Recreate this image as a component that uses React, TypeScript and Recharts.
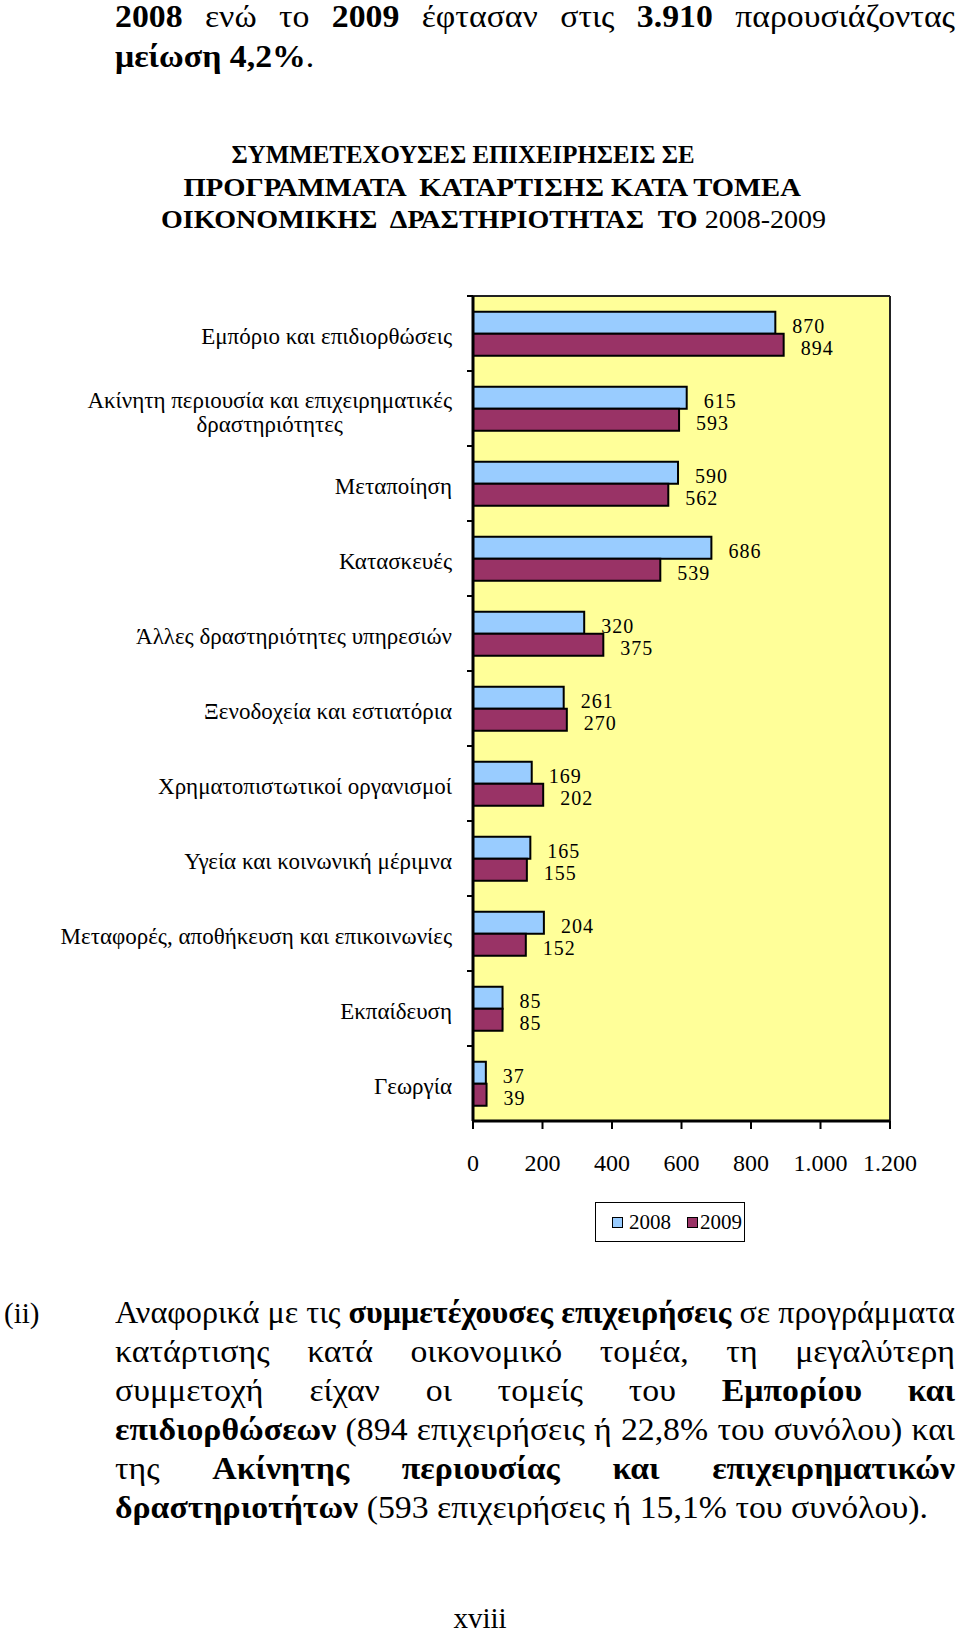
import React from "react"
import { Bar, BarChart, CartesianGrid, LabelList, ReferenceLine, XAxis, YAxis } from "recharts"

const sectors = [
  "Εμπόριο και επιδιορθώσεις",
  "Ακίνητη περιουσία και επιχειρηματικές\nδραστηριότητες",
  "Μεταποίηση",
  "Κατασκευές",
  "Άλλες δραστηριότητες υπηρεσιών",
  "Ξενοδοχεία και εστιατόρια",
  "Χρηματοπιστωτικοί οργανισμοί",
  "Υγεία και κοινωνική μέριμνα",
  "Μεταφορές, αποθήκευση και επικοινωνίες",
  "Εκπαίδευση",
  "Γεωργία",
]
const values2008 = [870, 615, 590, 686, 320, 261, 169, 165, 204, 85, 37]
const values2009 = [894, 593, 562, 539, 375, 270, 202, 155, 152, 85, 39]
const xTicks = [0, 200, 400, 600, 800, 1000, 1200]
const seriesNames = ["2008", "2009"]
const seriesColors = ["#99CCFF", "#993366"]

const topLines = [
  "**2008** ενώ το **2009** έφτασαν στις **3.910** παρουσιάζοντας",
  "**μείωση 4,2%**.",
]
const titleLines = [
  "**ΣΥΜΜΕΤΕΧΟΥΣΕΣ ΕΠΙΧΕΙΡΗΣΕΙΣ ΣΕ**",
  "**ΠΡΟΓΡΑΜΜΑΤΑ  ΚΑΤΑΡΤΙΣΗΣ ΚΑΤΑ ΤΟΜΕΑ**",
  "**ΟΙΚΟΝΟΜΙΚΗΣ  ΔΡΑΣΤΗΡΙΟΤΗΤΑΣ  ΤΟ** 2008-2009",
]
const paraLines = [
  "Αναφορικά με τις **συμμετέχουσες επιχειρήσεις** σε προγράμματα",
  "κατάρτισης κατά οικονομικό τομέα, τη μεγαλύτερη",
  "συμμετοχή είχαν οι τομείς του **Εμπορίου και**",
  "**επιδιορθώσεων** (894 επιχειρήσεις ή 22,8% του συνόλου) και",
  "της **Ακίνητης περιουσίας και επιχειρηματικών**",
  "**δραστηριοτήτων** (593 επιχειρήσεις ή 15,1% του συνόλου).",
]

const data = sectors.map((sector, i) => ({
  sector,
  y2008: values2008[i],
  y2009: values2009[i],
}))

const FONT = "'Liberation Serif', 'Times New Roman', serif"
const CHART_W = 960
const CHART_H = 1200
const MARGIN = { top: 295, right: 70, bottom: 19, left: 0 }
const Y_AXIS_W = 473
const X_AXIS_H = 60
const TOP_AXIS_H = 1
const PLOT_H = CHART_H - MARGIN.top - MARGIN.bottom - X_AXIS_H - TOP_AXIS_H
const AXIS_X = MARGIN.left + Y_AXIS_W
const LABEL_FS = 23
const TICK_FS = 24
const VALUE_FS = 20

let ctx: CanvasRenderingContext2D | null = null
function textWidth(text: string, font: string) {
  if (!ctx) ctx = document.createElement("canvas").getContext("2d")
  ctx!.font = font
  return ctx!.measureText(text).width
}

type Piece = { t: string; b: boolean }
function parseWords(line: string): Piece[][] {
  const words: Piece[][] = []
  let bold = false
  let cur: Piece[] = []
  for (const tok of line.split(/(\*\*| )/)) {
    if (tok === "**") {
      bold = !bold
      continue
    }
    if (tok === " ") {
      if (cur.length) words.push(cur)
      cur = []
      continue
    }
    if (tok) cur.push({ t: tok, b: bold })
  }
  if (cur.length) words.push(cur)
  return words
}

function Word({ pieces }: { pieces: Piece[] }) {
  return (
    <span>
      {pieces.map((p, i) => (
        <span key={i} style={{ fontWeight: p.b ? 700 : 400 }}>
          {p.t}
        </span>
      ))}
    </span>
  )
}

// body text: the source's Greek runs wider than Liberation Serif, so each line is stretched a bit
function TextLine({ text, top, justify, size = 31, stretch = 1.09 }: { text: string; top: number; justify: boolean; size?: number; stretch?: number }) {
  const words = parseWords(text)
  const fontOf = (b: boolean) => `${b ? "bold " : ""}${size}px ${FONT}`
  const natural =
    words.reduce((s, w) => s + w.reduce((a, p) => a + textWidth(p.t, fontOf(p.b)), 0), 0) +
    (words.length - 1) * textWidth(" ", fontOf(false))
  const k = Math.min(stretch, 840 / natural)
  return (
    <div
      style={{
        position: "absolute",
        left: 115,
        top,
        width: 840 / k,
        fontSize: size,
        lineHeight: "40px",
        whiteSpace: "pre",
        display: justify ? "flex" : "block",
        justifyContent: "space-between",
        transform: `scaleX(${k})`,
        transformOrigin: "left center",
      }}
    >
      {words.map((w, i) => (
        <React.Fragment key={i}>
          {!justify && i > 0 ? " " : null}
          <Word pieces={w} />
        </React.Fragment>
      ))}
    </div>
  )
}

// a title line squeezed horizontally to the width it has in the source
function FitLine({ text, cx, cy, width, size }: { text: string; cx: number; cy: number; width: number; size: number }) {
  const pieces: Piece[] = []
  let bold = false
  for (const tok of text.split(/(\*\*)/)) {
    if (tok === "**") bold = !bold
    else if (tok) pieces.push({ t: tok, b: bold })
  }
  const natural = pieces.reduce((s, p) => s + textWidth(p.t, `${p.b ? "bold " : ""}${size}px ${FONT}`), 0)
  return (
    <div
      style={{
        position: "absolute",
        left: cx - natural / 2,
        top: cy - 20,
        width: natural,
        fontSize: size,
        lineHeight: "40px",
        whiteSpace: "pre",
        transform: `scaleX(${width / natural})`,
        transformOrigin: "center",
      }}
    >
      {pieces.map((p, i) => (
        <span key={i} style={{ fontWeight: p.b ? 700 : 400 }}>
          {p.t}
        </span>
      ))}
    </div>
  )
}

function SectorTick(props: any) {
  const { x, y, payload } = props
  const lines = String(payload.value).split("\n")
  const font = `${LABEL_FS}px ${FONT}`
  const widths = lines.map((l) => textWidth(l, font))
  const blockW = Math.max(...widths)
  const band = PLOT_H / sectors.length
  const lh = 24
  const base = y - ((lines.length - 1) * lh) / 2 + 7 + (lines.length > 1 ? 4 : 3)
  return (
    <g>
      <line x1={AXIS_X - 6} x2={AXIS_X} y1={y - band / 2} y2={y - band / 2} stroke="#000" strokeWidth={2} />
      {lines.map((l, i) => (
        <text
          key={i}
          x={x - (blockW - widths[i]) / 2}
          y={base + i * lh}
          textAnchor="end"
          fontFamily={FONT}
          fontSize={LABEL_FS}
          fill="#000"
        >
          {l}
        </text>
      ))}
    </g>
  )
}

const renderValue = (props: any) => {
  const { x, y, width, height, value } = props
  return (
    <text
      x={x + width + 17}
      y={y + height / 2 + 4 + VALUE_FS * 0.33}
      fontFamily={FONT}
      fontSize={VALUE_FS}
      letterSpacing={1}
      fill="#000"
    >
      {value}
    </text>
  )
}

const formatThousands = (v: number) =>
  v >= 1000 ? `${Math.floor(v / 1000)}.${String(v % 1000).padStart(3, "0")}` : String(v)

function SectorChart() {
  return (
    <BarChart
      width={CHART_W}
      height={CHART_H}
      data={data}
      layout="vertical"
      margin={MARGIN}
      barCategoryGap="21%"
      barGap={0}
      style={{ position: "absolute", left: 0, top: 0 }}
    >
      <CartesianGrid fill="#FFFF99" horizontal={false} vertical={false} />
      <XAxis
        type="number"
        domain={[0, 1200]}
        ticks={xTicks}
        tickFormatter={formatThousands}
        height={X_AXIS_H}
        axisLine={{ stroke: "#000", strokeWidth: 3 }}
        tickLine={{ stroke: "#000", strokeWidth: 2 }}
        tickSize={8}
        tickMargin={25}
        tick={{ fill: "#000", fontSize: TICK_FS, fontFamily: FONT }}
        interval={0}
      />
      <XAxis
        xAxisId="top"
        orientation="top"
        type="number"
        domain={[0, 1200]}
        height={TOP_AXIS_H}
        tick={false}
        tickLine={false}
        axisLine={{ stroke: "#222", strokeWidth: 2 }}
      />
      <YAxis
        type="category"
        dataKey="sector"
        width={Y_AXIS_W}
        axisLine={{ stroke: "#000", strokeWidth: 3 }}
        tickLine={false}
        tickSize={6}
        tickMargin={15}
        tick={<SectorTick />}
        interval={0}
      />
      <ReferenceLine x={1200} stroke="#222" strokeWidth={2} />
      <Bar dataKey="y2008" name={seriesNames[0]} fill={seriesColors[0]} stroke="#000" strokeWidth={2} isAnimationActive={false}>
        <LabelList dataKey="y2008" content={renderValue} />
      </Bar>
      <Bar dataKey="y2009" name={seriesNames[1]} fill={seriesColors[1]} stroke="#000" strokeWidth={2} isAnimationActive={false}>
        <LabelList dataKey="y2009" content={renderValue} />
      </Bar>
    </BarChart>
  )
}

function ChartLegend() {
  return (
    <div
      style={{
        position: "absolute",
        left: 595,
        top: 1202,
        width: 150,
        height: 40,
        boxSizing: "border-box",
        border: "1.5px solid #000",
        display: "flex",
        alignItems: "center",
        paddingLeft: 16,
        fontSize: 21,
      }}
    >
      {seriesNames.map((name, i) => (
        <div key={name} style={{ display: "flex", alignItems: "center", marginLeft: i ? 16 : 0 }}>
          <span
            style={{
              width: 11,
              height: 11,
              boxSizing: "border-box",
              border: "1.5px solid #000",
              background: seriesColors[i],
              marginRight: i ? 2 : 6,
            }}
          />
          <span>{name}</span>
        </div>
      ))}
    </div>
  )
}

export default function App() {
  return (
    <div
      style={{
        position: "absolute",
        left: 0,
        top: 0,
        width: 960,
        height: 1640,
        overflow: "hidden",
        background: "#fff",
        color: "#000",
        fontFamily: FONT,
      }}
    >
      <TextLine text={topLines[0]} top={-3} justify />
      <TextLine text={topLines[1]} top={37} justify={false} />

      <FitLine text={titleLines[0]} cx={463} cy={155} width={463} size={26} />
      <FitLine text={titleLines[1]} cx={494} cy={188} width={621} size={26} />
      <FitLine text={titleLines[2]} cx={495} cy={220} width={667} size={26} />

      <SectorChart />
      <ChartLegend />

      <div style={{ position: "absolute", left: 4, top: 1293, fontSize: 29, lineHeight: "40px" }}>(ii)</div>
      {paraLines.map((l, i) => (
        <TextLine key={i} text={l} top={1293 + i * 39} justify={i < paraLines.length - 1} />
      ))}
      <div style={{ position: "absolute", left: 450, top: 1602, width: 60, textAlign: "center", fontSize: 29, lineHeight: "32px" }}>
        xviii
      </div>
    </div>
  )
}
